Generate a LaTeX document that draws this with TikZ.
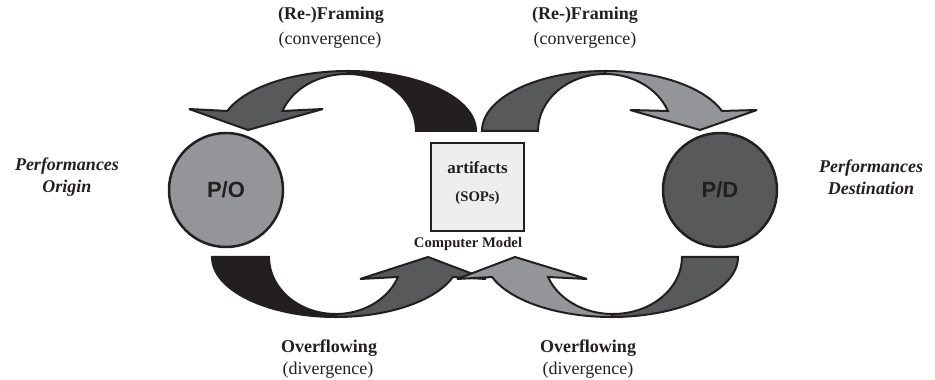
\documentclass[tikz,border=0pt]{standalone}
\usepackage{fontspec}
\setmainfont{Liberation Serif}
\newfontfamily\arialf{Liberation Sans}
\definecolor{cblack}{HTML}{231F20}
\definecolor{cdark}{HTML}{58595B}
\definecolor{cmid}{HTML}{939598}
\definecolor{clight}{HTML}{EEEEEE}
\tikzset{
  outl/.style={draw=cblack, line width=2pt, line join=miter, miter limit=4},
  circ/.style={circle, draw=cblack, line width=2.5pt, minimum size=114pt, inner sep=0pt,
    font=\arialf\bfseries\fontsize{22}{24}\selectfont, text=cblack},
  headtxt/.style={font=\bfseries\fontsize{18}{20}\selectfont, text=cblack, inner sep=0pt},
  subtxt/.style={font=\fontsize{18}{20}\selectfont, text=cblack, inner sep=0pt},
  sidetxt/.style={font=\bfseries\itshape\fontsize{18}{20}\selectfont, text=cblack, inner sep=0pt},
  boxtxt/.style={font=\bfseries\fontsize{17}{19}\selectfont, text=cblack, inner sep=0pt},
  smalltxt/.style={font=\bfseries\fontsize{14.7}{16}\selectfont, text=cblack, inner sep=0pt},
}
\begin{document}
\begin{tikzpicture}[x=1pt,y=1pt]
\useasboundingbox (0,0) rectangle (935,380);

% ---- top-left arrow (box -> P/O)
\path[outl, fill=cblack] (476,249) arc[start angle=0,end angle=90,x radius=128pt,y radius=60pt]
  -- (347,306) arc[start angle=90,end angle=0,x radius=69pt,y radius=57pt] -- cycle;
\path[outl, fill=cdark] (348,309) arc[start angle=90,end angle=160.5,x radius=128pt,y radius=60pt]
  -- (189,271) -- (248,250) -- (323,271) -- (282.4,269)
  arc[start angle=159.5,end angle=90,x radius=69pt,y radius=57pt] -- cycle;

% ---- top-right arrow (box -> P/D)
\path[outl, fill=cdark] (482,249) arc[start angle=180,end angle=90,x radius=123.5pt,y radius=60pt]
  -- (605.1,306) arc[start angle=90,end angle=180,x radius=67.1pt,y radius=57pt] -- cycle;
\path[outl, fill=cmid] (605.5,309) arc[start angle=90,end angle=19.5,x radius=123.5pt,y radius=60pt]
  -- (757,270) -- (700,250) -- (630,270) -- (667.9,269)
  arc[start angle=20.5,end angle=90,x radius=67.1pt,y radius=57pt] -- cycle;

% ---- bottom-left arrow (P/O -> box)
\path[outl, fill=cblack] (212,123) arc[start angle=180,end angle=270,x radius=124pt,y radius=60pt]
  -- (335.6,66) arc[start angle=270,end angle=180,x radius=66.6pt,y radius=57pt] -- cycle;
\path[outl, fill=cdark] (336,63) arc[start angle=270,end angle=340.5,x radius=124pt,y radius=60pt]
  -- (486,101) -- (428,123) -- (360,101) -- (398,103)
  arc[start angle=339.5,end angle=270,x radius=66.6pt,y radius=57pt] -- cycle;

% ---- bottom-right arrow (P/D -> box)
\path[outl, fill=cdark] (738,123) arc[start angle=0,end angle=-90,x radius=126.6pt,y radius=60pt]
  -- (612.8,66) arc[start angle=-90,end angle=0,x radius=69.2pt,y radius=57pt] -- cycle;
\path[outl, fill=cmid] (611.4,63) arc[start angle=-90,end angle=-160.5,x radius=126.6pt,y radius=60pt]
  -- (457,101) -- (515,123) -- (587,101) -- (548,103)
  arc[start angle=-159.5,end angle=-90,x radius=69.2pt,y radius=57pt] -- cycle;

% ---- circles
\node[circ, fill=cmid] (po) at (226,190) {P/O};
\node[circ, fill=cdark] (pd) at (720,190) {P/D};

% ---- box
\node[draw=cblack, line width=2.5pt, fill=clight, minimum width=93pt, minimum height=88pt, inner sep=0pt] (art) at (477.5,193) {};
\node[boxtxt] (artt) at (477.5,212) {artifacts};
\node[smalltxt] (sops) at (477.5,182) {(SOPs)};
\node[smalltxt] (cm) at (468,136) {Computer Model};

% ---- labels
\node[headtxt] (fr1) at (331,365) {(Re-)Framing};
\node[subtxt] (cv1) at (330,340) {(convergence)};
\node[headtxt] (fr2) at (585,365) {(Re-)Framing};
\node[subtxt] (cv2) at (585,340) {(convergence)};
\node[headtxt] (of1) at (329,32) {Overflowing};
\node[subtxt] (dv1) at (328,10) {(divergence)};
\node[headtxt] (of2) at (588,32) {Overflowing};
\node[subtxt] (dv2) at (588,10) {(divergence)};
\node[sidetxt, align=center] (por) at (67,203) {Performances\\[2pt]Origin};
\node[sidetxt, align=center] (pde) at (871,203) {Performances\\[2pt]Destination};
\end{tikzpicture}
\end{document}
